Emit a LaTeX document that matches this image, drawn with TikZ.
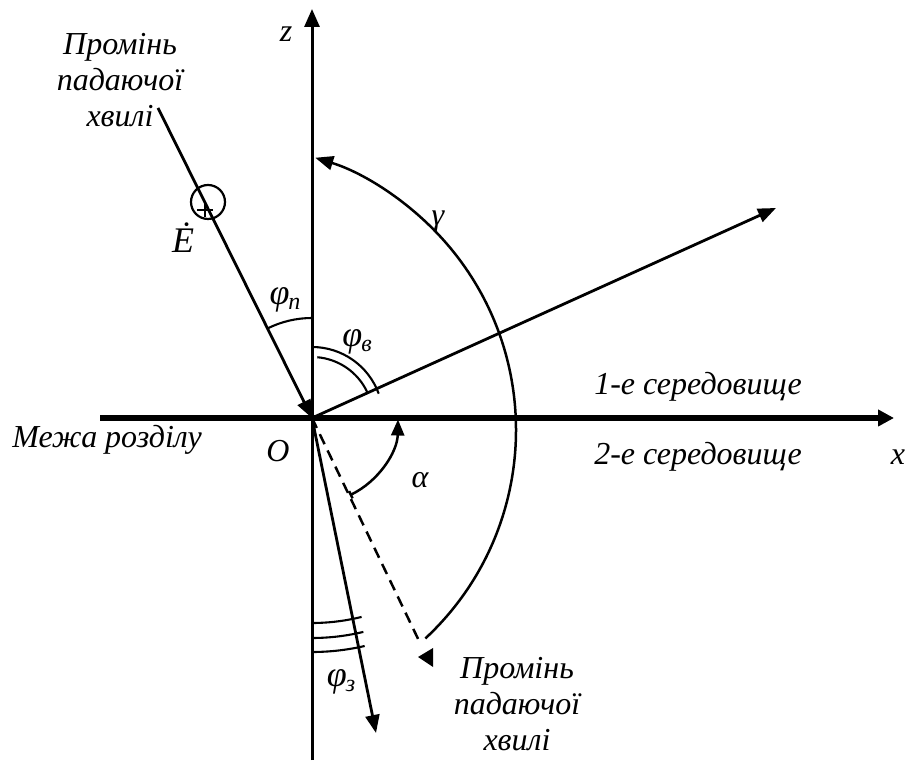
\documentclass[tikz,border=0pt]{standalone}
\usepackage{fontspec}
\setmainfont{Liberation Serif}
\usetikzlibrary{arrows.meta,calc}
\begin{document}
\begin{tikzpicture}[x=1pt,y=1pt,
  lbl/.style={font=\itshape\fontsize{32}{36}\selectfont, inner sep=0pt, align=center},
  sym/.style={font=\itshape\fontsize{32}{36}\selectfont, inner sep=0pt},
  big/.style={font=\itshape\fontsize{36}{40}\selectfont, inner sep=0pt},
  tipA/.style={-{Triangle[length=18pt,width=14pt]}},
  ray/.style={line width=2.8pt},
  ang/.style={line width=2.1pt}]
\useasboundingbox (0,0) rectangle (912,760);
% key points
\coordinate (O) at (312,342);
\coordinate (zb) at (312,0);
\coordinate (zt) at (312,751);
\coordinate (xl) at (100,342);
\coordinate (xr) at (894,342);
\coordinate (inc) at (158,652);
\coordinate (refl) at (776,552);
\coordinate (refr) at (376,27);
\coordinate (dsh) at (421,115);
\coordinate (gc) at (231,330);
% axes
\draw[line width=3pt,-{Triangle[length=18pt,width=15pt]}] (zb) -- (zt);
\draw[line width=5.5pt,-{Triangle[length=16pt,width=16pt]}] (xl) -- (xr);
% rays
\draw[ray,tipA] (inc) -- (O);
\draw[ray,tipA] (O) -- (refl);
\draw[ray,tipA] (O) -- (refr);
\draw[line width=2.5pt,dash pattern=on 11pt off 7pt] (O) -- (dsh);
% E-field marker
\node[draw,circle,line width=2.2pt,minimum size=34pt,inner sep=0pt] (circ) at (208,558) {};
\draw[line width=2.2pt] (197,550) -- (213,550);
\draw[line width=2.2pt] (205,543) -- (205,558);
\node[big] (E) at (183,522) {\.{E}};
% gamma arc
\draw[line width=2.5pt,-{Triangle[length=18pt,width=14pt]}]
  ($(gc)+(-47:285)$) arc[start angle=-47,end angle=72.8,radius=285];
\fill (418,103) -- (433,112) -- (433,93) -- cycle;
% alpha arc
\draw[line width=2.5pt,{Bar[width=8pt]}-{Triangle[length=16pt,width=13pt]}]
  ($(O)+(-64:86)$) arc[start angle=-64,end angle=-1,radius=86];
% phi_n arc
\draw[ang] ($(O)+(90:100)$) arc[start angle=90,end angle=116.4,radius=100];
% phi_v arcs
\draw[ang] ($(O)+(90:71)$) arc[start angle=90,end angle=20,radius=71];
\draw[ang] ($(O)+(85:61)$) arc[start angle=85,end angle=25,radius=61];
% phi_z arcs
\draw[ang] ($(O)+(-90:205)$) arc[start angle=-90,end angle=-76,radius=205];
\draw[ang] ($(O)+(-90:220)$) arc[start angle=-90,end angle=-76.5,radius=220];
\draw[ang] ($(O)+(-90:234)$) arc[start angle=-90,end angle=-77,radius=234];
% labels
\node[sym] (zl) at (286,726) {z};
\node[sym] (xlab) at (898,303) {x};
\node[sym] (Ol) at (278,309) {O};
\node[sym] (al) at (420,280) {α};
\node[sym] (gl) at (438,538) {γ};
\node[big] (phn) at (285,460) {φ\kern-1pt\raisebox{-5pt}{\fontsize{24}{24}\selectfont п}};
\node[big] (phv) at (357,418) {φ\kern-1pt\raisebox{-5pt}{\fontsize{24}{24}\selectfont в}};
\node[big] (phz) at (341,78) {φ\kern-1pt\raisebox{-5pt}{\fontsize{24}{24}\selectfont з}};
\node[lbl] (t1) at (120,680) {Промінь\\падаючої\\хвилі};
\node[lbl] (t2) at (517,56) {Промінь\\падаючої\\хвилі};
\node[lbl] (m1) at (698,373) {1-е середовище};
\node[lbl] (m2) at (698,303) {2-е середовище};
\node[lbl] (mz) at (107,320) {Межа розділу};
\end{tikzpicture}
\end{document}
